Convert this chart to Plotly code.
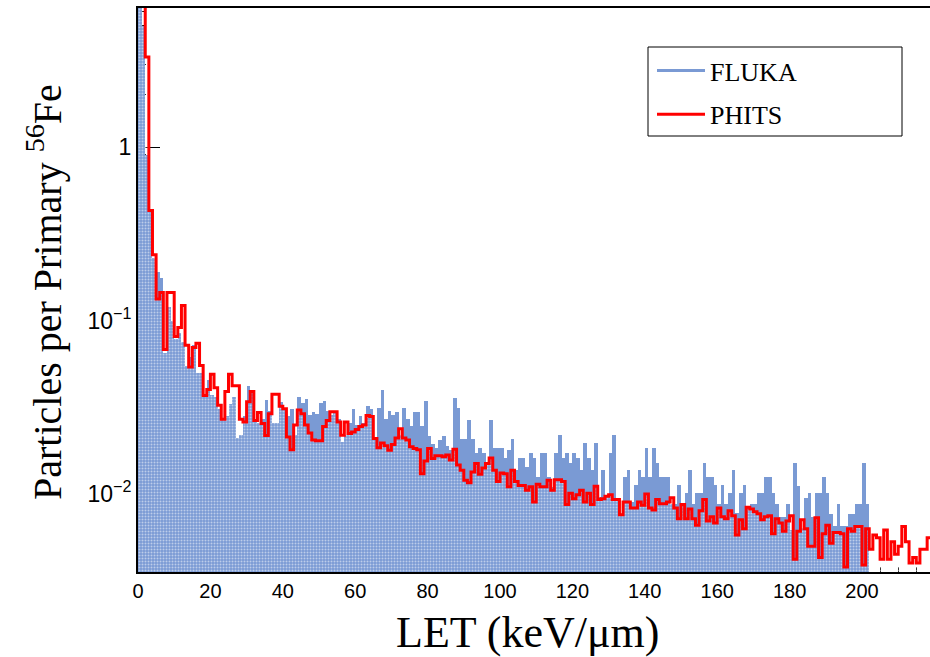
import plotly.graph_objects as go

# ---------------- data ----------------
bin_width = 1.0

phits = [
    8.0, 8.0, 3.3, 0.43, 0.239, 0.133, 0.145, 0.068, 0.145, 0.145,
    0.081, 0.091, 0.122, 0.072, 0.054, 0.070, 0.074, 0.055, 0.037, 0.040,
    0.049, 0.041, 0.0325, 0.027, 0.039, 0.049, 0.042, 0.042, 0.027, 0.026,
    0.034, 0.039, 0.0265, 0.0295, 0.0255, 0.0217, 0.029, 0.0376, 0.0376, 0.032,
    0.031, 0.0213, 0.018, 0.025, 0.0305, 0.029, 0.025, 0.0225, 0.0205, 0.0203,
    0.0203, 0.0245, 0.0265, 0.0298, 0.0298, 0.026, 0.0218, 0.026, 0.0223, 0.0228,
    0.0235, 0.0245, 0.025, 0.0283, 0.028, 0.0209, 0.0185, 0.0197, 0.019, 0.0179,
    0.0193, 0.021, 0.0238, 0.021, 0.0205, 0.0187, 0.0183, 0.018, 0.0131, 0.0155,
    0.0183, 0.016, 0.0166, 0.0166, 0.0164, 0.0168, 0.0157, 0.0181, 0.0147, 0.0137,
    0.0120, 0.0116, 0.0134, 0.0150, 0.0130, 0.0141, 0.0150, 0.0161, 0.0137, 0.0118,
    0.0132, 0.0131, 0.0110, 0.0137, 0.0118, 0.0112, 0.0112, 0.0105, 0.0110, 0.0090,
    0.0114, 0.0110, 0.0110, 0.0120, 0.0105, 0.0121, 0.0121, 0.0118, 0.0087, 0.0101,
    0.0094, 0.0099, 0.0105, 0.0090, 0.0101, 0.0087, 0.0111, 0.0093, 0.0094, 0.0097,
    0.0099, 0.0093, 0.0093, 0.0076, 0.0090, 0.0090, 0.0083, 0.0083, 0.0090, 0.0086,
    0.0100, 0.0083, 0.0081, 0.0093, 0.0088, 0.0088, 0.0090, 0.0095, 0.0083, 0.0072,
    0.0087, 0.0072, 0.0082, 0.0072, 0.0066, 0.0080, 0.0093, 0.0070, 0.0074, 0.0068,
    0.0083, 0.0074, 0.0072, 0.0080, 0.0075, 0.0058, 0.0071, 0.0063, 0.0084, 0.0082,
    0.0079, 0.0077, 0.0071, 0.0074, 0.0075, 0.0059, 0.0072, 0.0068, 0.0061, 0.0070,
    0.0075, 0.0042, 0.0061, 0.0071, 0.0063, 0.0050, 0.0050, 0.0073, 0.0043, 0.0059,
    0.0066, 0.0052, 0.0060, 0.0060, 0.0059, 0.0038, 0.0063, 0.0061, 0.0065, 0.0065,
    0.0039, 0.0063, 0.0048, 0.0058, 0.0056, 0.0042, 0.0062, 0.0042, 0.0053, 0.0045,
    0.0050, 0.0065, 0.0053, 0.0040, 0.0043, 0.0040, 0.0048, 0.0048, 0.0056,
]

fluka = [
    7.0, 5.0, 0.9, 0.42, 0.23, 0.19, 0.175, 0.065, 0.12, 0.10,
    0.078, 0.085, 0.075, 0.055, 0.062, 0.072, 0.05, 0.05, 0.036, 0.0454,
    0.037, 0.036, 0.031, 0.027, 0.028, 0.033, 0.036, 0.021, 0.022, 0.028,
    0.042, 0.040, 0.026, 0.0255, 0.027, 0.035, 0.030, 0.0255, 0.0255, 0.034,
    0.031, 0.028, 0.031, 0.022, 0.036, 0.0335, 0.0355, 0.0285, 0.0295, 0.029,
    0.0335, 0.0345, 0.030, 0.0285, 0.0295, 0.027, 0.020, 0.022, 0.0255, 0.031,
    0.025, 0.028, 0.0255, 0.032, 0.031, 0.0213, 0.0315, 0.0395, 0.027, 0.030,
    0.0285, 0.0295, 0.022, 0.0315, 0.027, 0.0245, 0.0295, 0.0295, 0.0245, 0.0345,
    0.0217, 0.0195, 0.0183, 0.0205, 0.0217, 0.019, 0.018, 0.0356, 0.0312, 0.0207,
    0.0207, 0.0267, 0.0207, 0.0172, 0.0183, 0.0172, 0.0153, 0.0267, 0.0183, 0.0183,
    0.0183, 0.0161, 0.0179, 0.0207, 0.0137, 0.0162, 0.0162, 0.0143, 0.0172, 0.0161,
    0.0126, 0.0172, 0.0172, 0.0126, 0.0110, 0.0172, 0.0219, 0.0162, 0.0172, 0.0150,
    0.0172, 0.0161, 0.0137, 0.0196, 0.0161, 0.0137, 0.0196, 0.0096, 0.0137, 0.0097,
    0.0172, 0.0219, 0.0093, 0.0075, 0.0126, 0.0137, 0.0090, 0.0113, 0.0137, 0.0126,
    0.0183, 0.0126, 0.0183, 0.0150, 0.0126, 0.0126, 0.0126, 0.0088, 0.0088, 0.0113,
    0.0088, 0.0101, 0.0137, 0.0088, 0.0101, 0.0101, 0.0150, 0.0126, 0.0126, 0.0113,
    0.0088, 0.0113, 0.0088, 0.0101, 0.0137, 0.0078, 0.0101, 0.0113, 0.0085, 0.0088,
    0.0088, 0.0101, 0.0101, 0.0126, 0.0126, 0.0101, 0.0088, 0.0074, 0.0074, 0.0088,
    0.0062, 0.0150, 0.0111, 0.0064, 0.0095, 0.0101, 0.0074, 0.0101, 0.0101, 0.0126,
    0.0101, 0.0077, 0.0065, 0.0088, 0.0065, 0.0065, 0.0077, 0.0077, 0.0088, 0.0088,
    0.0150, 0.0088,
]

x_ticks = [0, 20, 40, 60, 80, 100, 120, 140, 160, 180, 200]
y_ticks = [0.01, 0.1, 1]
y_ticktext = ["10<sup>\u22122</sup>", "10<sup>\u22121</sup>", "1"]
series_names = ["FLUKA", "PHITS"]

# ---------------- styling ----------------
BLUE = "rgb(122,154,212)"
RED = "rgb(255,0,0)"
SANS = "Liberation Sans, Arial, sans-serif"
SERIF = "Liberation Serif, Times New Roman, serif"

fluka_x = [(i + 0.5) * bin_width for i in range(len(fluka))]
phits_x = [(i + 0.5) * bin_width for i in range(len(phits))]
phits_edges = [i * bin_width for i in range(len(phits) + 1)]
phits_step = phits + [phits[-1]]

fig = go.Figure()

# FLUKA: solid filled histogram
fig.add_trace(go.Bar(
    x=fluka_x, y=fluka, width=bin_width,
    marker=dict(color=BLUE, line=dict(width=0)),
    showlegend=False, hoverinfo="skip",
))
# PHITS: white dotted fill pattern (gives the checkered look where overlapping)
fig.add_trace(go.Bar(
    x=phits_x, y=phits, width=bin_width,
    marker=dict(color="rgba(0,0,0,0)", line=dict(width=0),
                pattern=dict(shape=".", fgcolor="white", bgcolor="rgba(0,0,0,0)",
                             size=3, solidity=0.35, fillmode="overlay")),
    showlegend=False, hoverinfo="skip",
))
# PHITS: red step outline
fig.add_trace(go.Scatter(
    x=phits_edges, y=phits_step, mode="lines",
    line=dict(color=RED, width=3, shape="hv"),
    showlegend=False, hoverinfo="skip",
))

# legend entries (line samples)
fig.add_trace(go.Scatter(x=[None], y=[None], mode="lines", name=series_names[0],
                         line=dict(color=BLUE, width=3), legendgroup="a"))
fig.add_trace(go.Scatter(x=[None], y=[None], mode="lines", name=series_names[1],
                         line=dict(color=RED, width=3), legendgroup="b"))

W, H = 930, 657
L, R, T, B = 138, 0, 8, 85
pw, ph = W - L - R, H - T - B

def px(xp):
    return (xp - L) / pw

def py(yp):
    return (H - B - yp) / ph

minor_vals = []
for d in [0.001, 0.01, 0.1, 1]:
    for m in range(2, 10):
        minor_vals.append(m * d)

fig.update_layout(
    width=W, height=H,
    margin=dict(l=L, r=R, t=T, b=B, pad=0),
    paper_bgcolor="white", plot_bgcolor="white",
    barmode="overlay", bargap=0,
    showlegend=True,
    legend=dict(x=px(652), y=py(47), xanchor="left", yanchor="top",
                bgcolor="rgba(0,0,0,0)", borderwidth=0,
                font=dict(family=SERIF, size=26, color="black"),
                itemwidth=48, tracegroupgap=7, traceorder="grouped"),
    xaxis=dict(range=[0, pw / 3.62], tickvals=x_ticks, ticks="inside",
               ticklen=12, tickwidth=1, tickcolor="black",
               showline=True, linecolor="black", linewidth=2, mirror=True,
               showgrid=False, zeroline=False, layer="below traces",
               tickfont=dict(family=SANS, size=20, color="black"),
               minor=dict(ticks="inside", ticklen=5, dtick=5, tickcolor="black", showgrid=False)),
    yaxis=dict(type="log", range=[(147 - 572) / 173.5, (147 - 8) / 173.5],
               tickvals=y_ticks, ticktext=y_ticktext, ticks="inside",
               ticklen=22, tickwidth=1, tickcolor="black",
               showline=True, linecolor="black", linewidth=2,
               showgrid=False, zeroline=False, layer="below traces",
               tickfont=dict(family=SANS, size=23, color="black"),
               minor=dict(ticks="inside", ticklen=8, tickvals=minor_vals,
                          tickcolor="black", showgrid=False)),
    shapes=[dict(type="rect", xref="paper", yref="paper",
                 x0=px(648), x1=px(902), y0=py(136), y1=py(47),
                 line=dict(color="black", width=1), fillcolor="rgba(0,0,0,0)",
                 layer="above")],
    annotations=[
        dict(text="LET (keV/\u03bcm)", xref="paper", yref="paper",
             x=px(527), y=py(632), xanchor="center", yanchor="middle",
             showarrow=False, font=dict(family=SERIF, size=44, color="black")),
        dict(text="Particles per Primary <sup>56</sup>Fe", xref="paper", yref="paper",
             x=px(44), y=py(292), xanchor="center", yanchor="middle", textangle=-90,
             showarrow=False, font=dict(family=SERIF, size=40, color="black")),
    ],
)

fig.write_html("out.html")
